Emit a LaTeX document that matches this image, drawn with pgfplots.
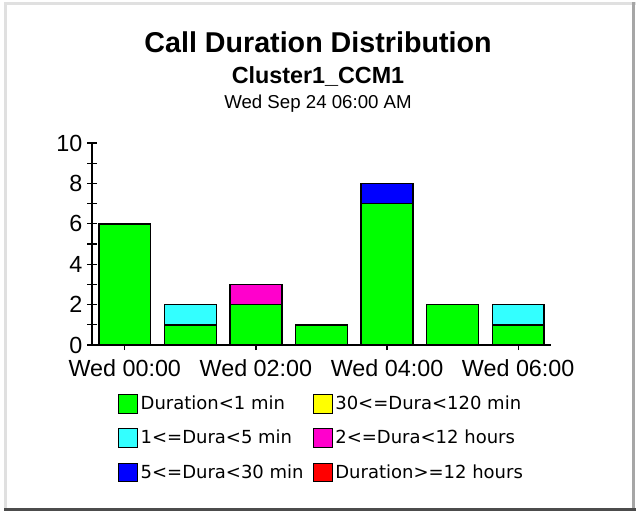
\documentclass[border=0pt]{standalone}
\usepackage{pgfplots}
\pgfplotsset{compat=1.18}
\usepackage{fontspec}
\setmainfont{Liberation Sans}
\newfontfamily\legfont{DejaVu Sans}
\definecolor{cgreen}{HTML}{00FF00}
\definecolor{ccyan}{HTML}{33FFFF}
\definecolor{cblue}{HTML}{0000FF}
\definecolor{cyellow}{HTML}{FFFF00}
\definecolor{cmagenta}{HTML}{FF00CC}
\definecolor{cred}{HTML}{FF0000}
\begin{document}
\begin{tikzpicture}[x=0.75pt,y=0.75pt]
\useasboundingbox (0,0) rectangle (636,512);
\fill[white] (0,0) rectangle (636,512);
\fill[black!12] (4,4) rectangle (7,510);
\fill[black!12] (4,507) rectangle (636,510);
\fill[black!35] (632,4) rectangle (635,510);
\fill[black!70] (4,1) rectangle (636,4);
\node[font=\bfseries\fontsize{21.5}{25}\selectfont] at (318,470) {Call Duration Distribution};
\node[font=\bfseries\fontsize{17.5}{20}\selectfont] at (318,436) {Cluster1\_CCM1};
\node[font=\fontsize{14}{17}\selectfont] at (318,408) {Wed Sep 24 06:00 AM};
\begin{axis}[
  at={(69pt,125.25pt)}, anchor=south west,
  scale only axis, width=344.25pt, height=151.5pt,
  xmin=-0.5, xmax=6.5, ymin=0, ymax=10,
  axis lines*=left,
  axis line style={black, line width=1.1pt},
  ytick={0,2,...,10}, minor ytick={1,3,...,9},
  xtick={0,2,4,6},
  xticklabels={Wed 00:00,Wed 02:00,Wed 04:00,Wed 06:00},
  tick align=center,
  major tick length=7.5pt, minor tick length=7pt,
  tick style={black, line width=0.9pt},
  every minor tick/.style={black, line width=0.9pt},
  ticklabel style={font=\fontsize{17.5}{20}\selectfont},
  xticklabel style={yshift=-4pt},
  /pgf/number format/assume math mode=true,
  ybar stacked, bar width=0.79,
  every axis plot/.append style={draw=black, line width=1.1pt},
  legend columns=3, transpose legend,
  legend cell align=left,
  legend style={draw=none, fill=none, at={(axis description cs:0.0566,-0.2376)},
    anchor=north west, inner sep=0pt,
    font=\legfont\fontsize{13.5}{16}\selectfont,
    row sep=10pt,
    /tikz/every even column/.append style={column sep=5pt}},
  legend image code/.code={\draw[#1,draw=black,line width=0.8pt] (0pt,-7pt) rectangle (14pt,7pt);},
]
\addplot[fill=cgreen] coordinates {(0,6) (1,1) (2,2) (3,1) (4,7) (5,2) (6,1)};
\addplot[fill=ccyan] coordinates {(0,0) (1,1) (2,0) (3,0) (4,0) (5,0) (6,1)};
\addplot[fill=cblue] coordinates {(0,0) (1,0) (2,0) (3,0) (4,1) (5,0) (6,0)};
\addplot[fill=cyellow] coordinates {(0,0) (1,0) (2,0) (3,0) (4,0) (5,0) (6,0)};
\addplot[fill=cmagenta] coordinates {(0,0) (1,0) (2,1) (3,0) (4,0) (5,0) (6,0)};
\addplot[fill=cred] coordinates {(0,0) (1,0) (2,0) (3,0) (4,0) (5,0) (6,0)};
\legend{Duration<1 min, 1<=Dura<5 min, 5<=Dura<30 min, 30<=Dura<120 min, 2<=Dura<12 hours, Duration>=12 hours}
\end{axis}
\end{tikzpicture}
\end{document}
